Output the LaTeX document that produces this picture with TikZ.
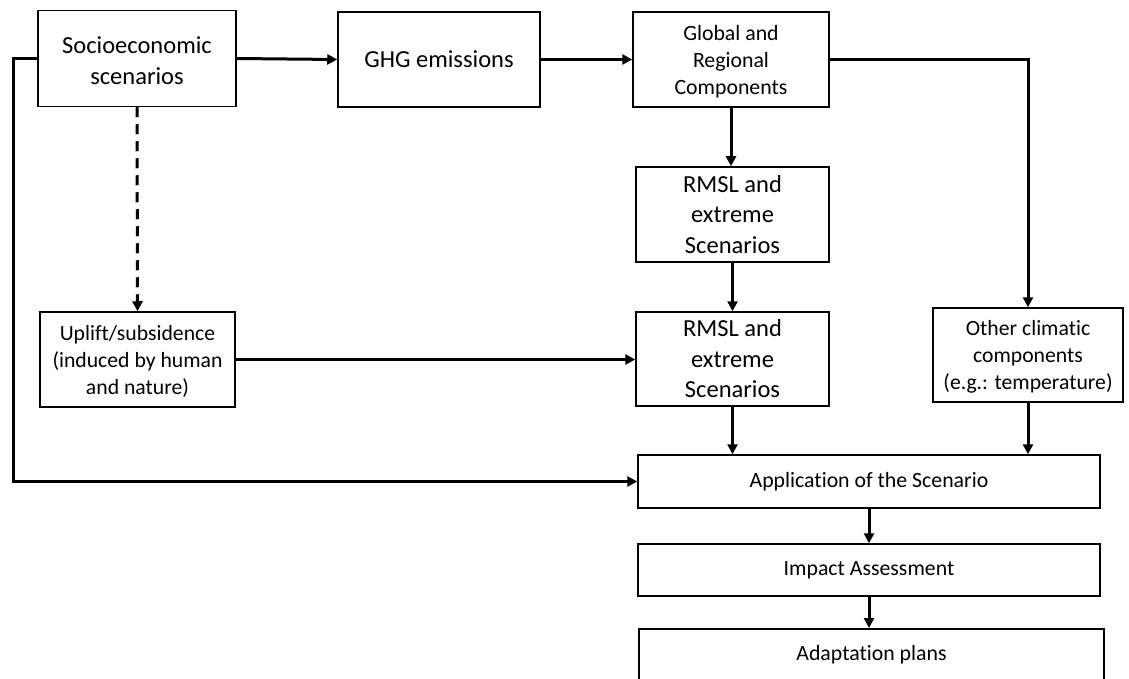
\documentclass[tikz,border=0pt]{standalone}
\usepackage{fontspec}
\setmainfont{Carlito}[Ligatures=NoCommon]
\usetikzlibrary{arrows.meta}
\tikzset{
  box/.style={draw=black, line width=1.5pt, align=center, inner sep=0pt, text=black},
  conn/.style={line width=3pt, -{Triangle[length=10pt,width=10pt]}, shorten >=0pt},
  dashconn/.style={conn, dash pattern=on 10pt off 7pt},
  big/.style={font=\fontsize{24.5}{30.5}\selectfont},
  mid/.style={font=\fontsize{21.7}{27}\selectfont},
  small/.style={font=\fontsize{21.8}{27}\selectfont},
}
\begin{document}
\begin{tikzpicture}[x=1pt,y=-1pt]
\useasboundingbox (0,0) rectangle (1129,679);
\clip (0,0) rectangle (1129,679);
\node[box,big,minimum width=198pt,minimum height=96pt] (socio) at (137,58.5) {\strut Socioeconomic\\scenarios};
\node[box,big,minimum width=202pt,minimum height=95pt] (ghg) at (439,59.5) {GHG emissions};
\node[box,small,minimum width=196pt,minimum height=95pt] (glob) at (731,59.5) {\strut Global and\\Regional\\Components};
\node[box,big,minimum width=193pt,minimum height=95pt] (rm1) at (732.5,214.5) {RMSL and\\extreme\\Scenarios};
\node[box,big,minimum width=193pt,minimum height=94pt] (rm2) at (732.5,359) {RMSL and\\extreme\\Scenarios};
\node[box,mid,minimum width=190pt,minimum height=94pt] (other) at (1028,355) {\strut Other climatic\\components\\(e.g.: temperature)};
\node[box,mid,minimum width=195pt,minimum height=95pt] (uplift) at (137.5,359.5) {\strut Uplift/subsidence\\(induced by human\\and nature)};
\node[box,small,minimum width=462pt,minimum height=53pt] (app) at (869,481.5) {Application of the Scenario};
\node[box,small,minimum width=462pt,minimum height=52pt] (imp) at (869,570) {Impact Assessment};
\node[box,small,minimum width=465pt,minimum height=62pt,anchor=north] (adapt) at (871.5,628) {};
\node[small] (adapttext) at (871.5,655) {Adaptation plans};
\coordinate (lc) at (13,481.5);
\draw[conn] (socio.east) -- (ghg.west);
\draw[conn] (ghg.west -| ghg.east) -- (glob.west);
\draw[conn] (glob.east) -| (other.north);
\draw[conn] (glob.south) -- (glob.south |- rm1.north);
\draw[conn] (rm1.south) -- (rm1.south |- rm2.north);
\draw[conn] (rm2.south) -- (rm2.south |- app.north);
\draw[conn] (other.south) -- (other.south |- app.north);
\draw[conn] (uplift.east) -- (uplift.east -| rm2.west);
\draw[dashconn] (socio.south) -- (uplift.north);
\draw[conn] (socio.west) -| (lc) -- (app.west);
\draw[conn] (app.south) -- (imp.north);
\draw[conn] (imp.south) -- (imp.south |- adapt.north);
\end{tikzpicture}
\end{document}
